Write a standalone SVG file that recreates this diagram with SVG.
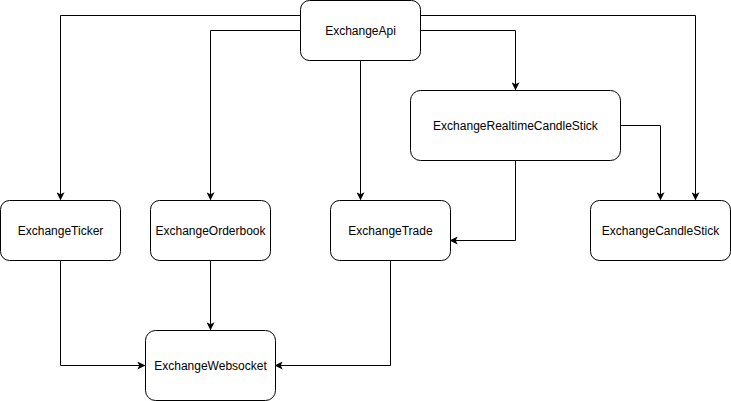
<svg xmlns="http://www.w3.org/2000/svg" width="731" height="401" viewBox="0 0 731 401">
<style>
.n rect{fill:#fff;stroke:#000;stroke-width:1}
.n text{font-family:"Liberation Sans",Arial,sans-serif;font-size:12px;fill:#000;text-anchor:middle;dominant-baseline:central}
.e path{fill:none;stroke:#000;stroke-width:1;marker-end:url(#a)}
</style>
<defs>
<marker id="a" viewBox="0 0 10 10" refX="9" refY="5" markerWidth="8" markerHeight="8" markerUnits="userSpaceOnUse" orient="auto">
<path d="M0,0 L10,5 L0,10 L2.5,5 Z" fill="#000"/>
</marker>
</defs>
<rect width="731" height="401" fill="#fff"/>
<g class="e" id="connectors">
<path d="M300.5,15.5 H60.5 V199.5"/>
<path d="M300.5,30.5 H210.5 V199.5"/>
<path d="M360.5,60.5 V199.5"/>
<path d="M420.5,30.5 H515.5 V89.5"/>
<path d="M420.5,15.5 H695.5 V199.5"/>
<path d="M620.5,125.5 H660.5 V199.5"/>
<path d="M515.5,160.5 V240.5 H450.5"/>
<path d="M60.5,260.5 V365.5 H144.5"/>
<path d="M210.5,260.5 V329.5"/>
<path d="M390.5,260.5 V365.5 H275.5"/>
</g>
<g class="n" id="ExchangeApi"><rect x="300.5" y="0.5" width="120" height="60" rx="9"/><text x="360.5" y="30.5">ExchangeApi</text></g>
<g class="n" id="ExchangeRealtimeCandleStick"><rect x="410.5" y="90.5" width="210" height="70" rx="10"/><text x="515.5" y="125.5">ExchangeRealtimeCandleStick</text></g>
<g class="n" id="ExchangeTicker"><rect x="0.5" y="200.5" width="120" height="60" rx="9"/><text x="60.5" y="230.5">ExchangeTicker</text></g>
<g class="n" id="ExchangeOrderbook"><rect x="150.5" y="200.5" width="120" height="60" rx="9"/><text x="210.5" y="230.5">ExchangeOrderbook</text></g>
<g class="n" id="ExchangeTrade"><rect x="330.5" y="200.5" width="120" height="60" rx="9"/><text x="390.5" y="230.5">ExchangeTrade</text></g>
<g class="n" id="ExchangeCandleStick"><rect x="590.5" y="200.5" width="140" height="60" rx="9"/><text x="660.5" y="230.5">ExchangeCandleStick</text></g>
<g class="n" id="ExchangeWebsocket"><rect x="145.5" y="330.5" width="130" height="70" rx="10"/><text x="210.5" y="365.5">ExchangeWebsocket</text></g>
</svg>
